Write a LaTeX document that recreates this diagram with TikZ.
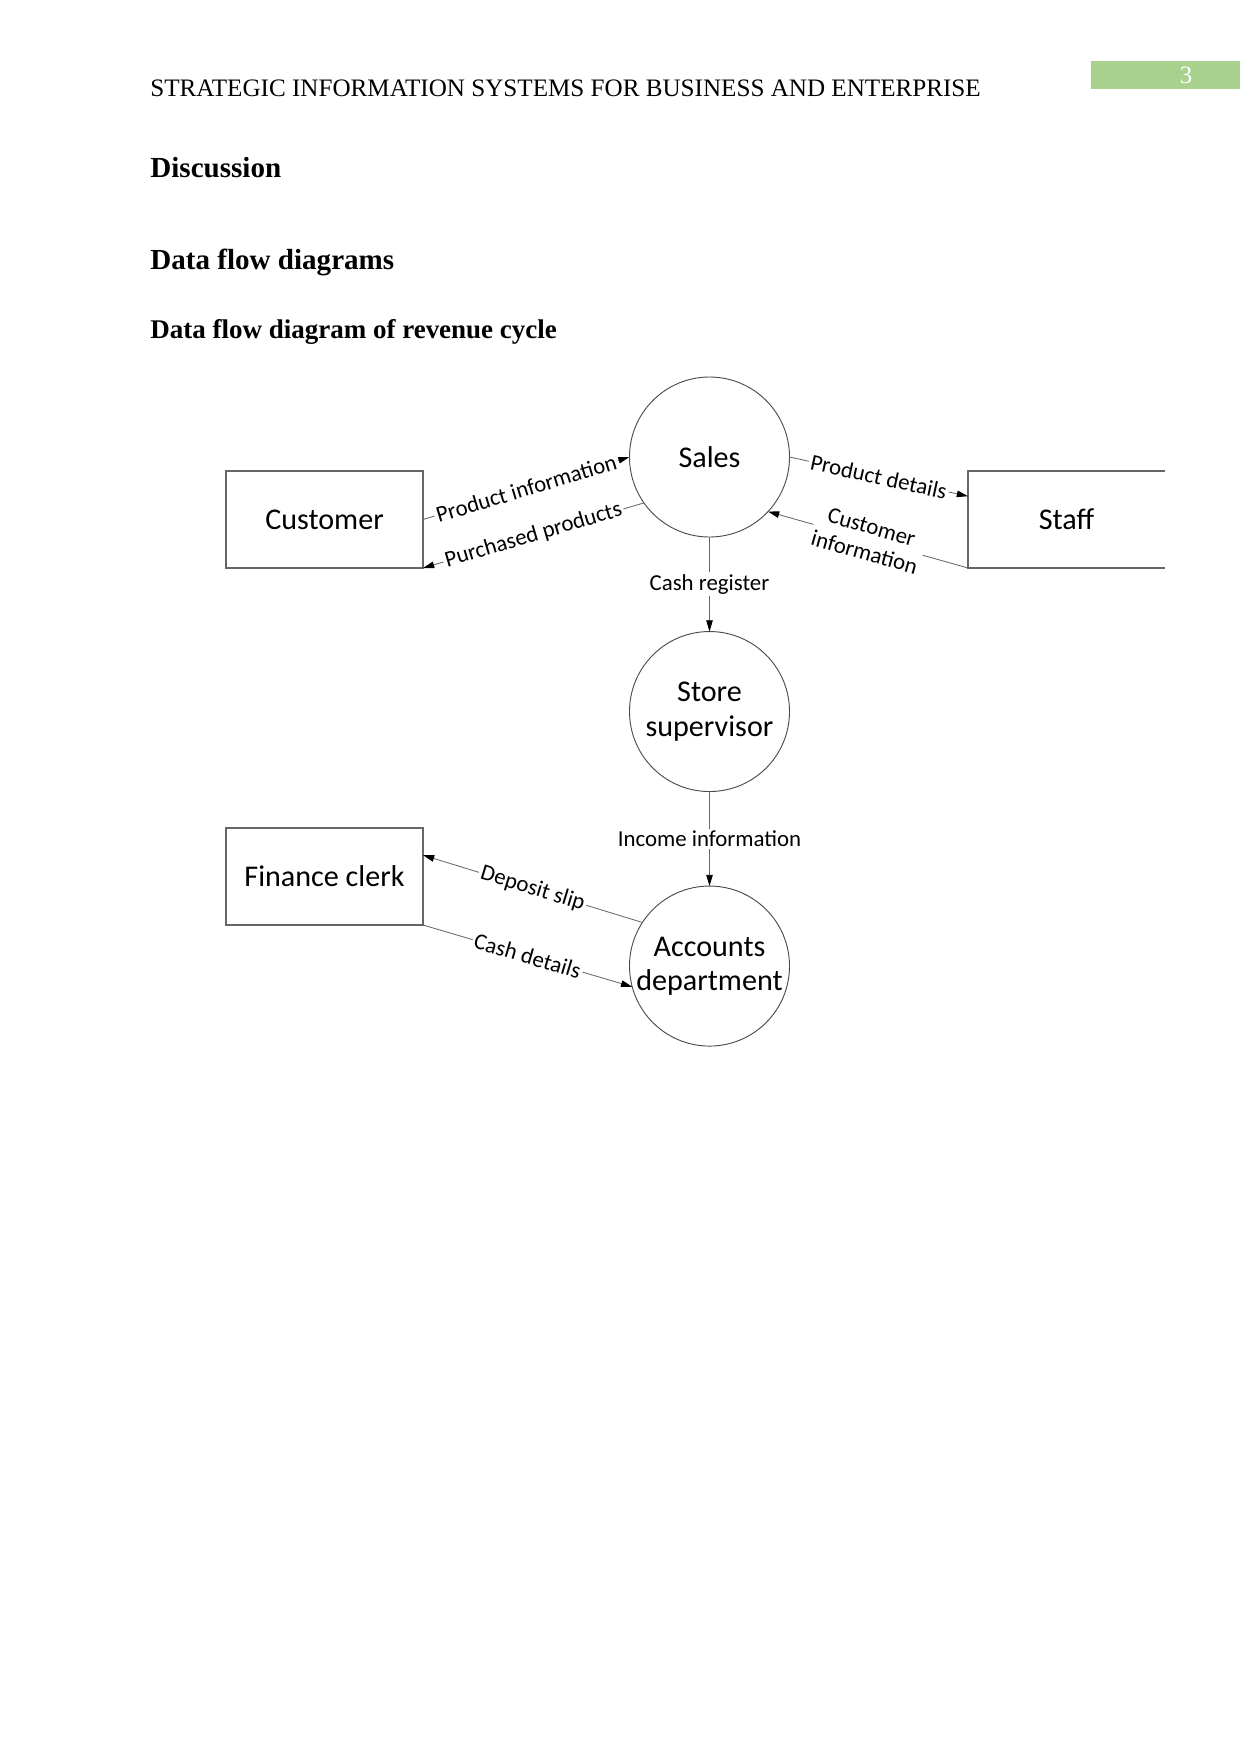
\documentclass[tikz,border=0pt]{standalone}
\usepackage{fontspec}
\setmainfont{Liberation Serif}
\newfontfamily\dfdfont{Carlito}
\usepackage{xcolor}
\usetikzlibrary{arrows.meta,positioning,calc}
\definecolor{pggreen}{HTML}{A9D18E}

\begin{document}
\begin{tikzpicture}[x=0.1693mm,y=-0.1693mm,>={Triangle[length=1.9mm,width=1.1mm,color=black]},
 node distance=16mm,
 ent/.style={draw=black!60,line width=0.5pt,minimum width=33.35mm,minimum height=16.42mm,outer sep=0pt,font=\dfdfont\fontsize{14.5}{16.5}\selectfont},
 pr/.style={draw=black!70,line width=0.45pt,circle,minimum size=27.09mm,inner sep=0pt,outer sep=0pt,align=center,font=\dfdfont\fontsize{14.5}{16.5}\selectfont},
 fl/.style={->,draw=black!60,line width=0.4pt},
 lab/.style={fill=white,inner sep=1pt,align=center,font=\dfdfont\fontsize{11}{12.8}\selectfont}]
\useasboundingbox (0,0) rectangle (1241,1754);

% page head
\node[anchor=base west,inner sep=0pt,font=\fontsize{12.1}{14}\selectfont] (runhead) at (150,96) {STRATEGIC INFORMATION SYSTEMS FOR BUSINESS AND ENTERPRISE};
\node[anchor=north west,fill=pggreen,minimum width=25.23mm,minimum height=4.74mm,inner sep=0pt] (pgbox) at (1091,61) {};
\node[text=white,font=\fontsize{12}{14}\selectfont] (pgno) at (1186,75) {3};
\node[anchor=base west,inner sep=0pt,font=\bfseries\fontsize{14}{16}\selectfont] (sec) at (150,177) {Discussion};
\node[anchor=base west,inner sep=0pt,font=\bfseries\fontsize{14}{16}\selectfont] (sub) at (150,269) {Data flow diagrams};
\node[anchor=base west,inner sep=0pt,font=\bfseries\fontsize{13}{15}\selectfont] (subsub) at (150,338) {Data flow diagram of revenue cycle};

% processes
\node[pr] (sales) at (709.5,457) {Sales};
\node[pr,below=of sales] (store) {Store\\supervisor};
\node[pr,below=of store] (acc) {Accounts\\department};

% external entities
\node[ent] (cust) at (324.5,519.5) {Customer};
\node[ent] (fin) at (324.5,876.5) {Finance clerk};
\node[ent,draw=none] (staff) at (1066.5,519.5) {Staff};
\draw[black!60,line width=0.5pt] (staff.north east) -- (staff.north west) -- (staff.south west) -- (staff.south east);

\coordinate (staff in) at ($(staff.north west)!0.26!(staff.south west)$);
\coordinate (fin in) at ($(fin.north east)!0.28!(fin.south east)$);

% data flows
\draw[fl] (cust.east) -- (sales.west) node[lab,midway,sloped] {Product information};
\draw[fl] (sales.215) -- (cust.south east) node[lab,midway,sloped] {Purchased products};
\draw[fl] (sales.east) -- (staff in) node[lab,midway,sloped] {Product details};
\draw[fl] (staff.south west) -- (sales.-43) node[lab,midway,sloped] {Customer\\information};
\draw[fl] (sales) -- (store) node[lab,midway] {Cash register};
\draw[fl] (store) -- (acc) node[lab,midway] {Income information};
\draw[fl] (acc.147) -- (fin in) node[lab,midway,sloped] {Deposit slip};
\draw[fl] (fin.south east) -- (acc.195) node[lab,midway,sloped] {Cash details};
\end{tikzpicture}
\end{document}
